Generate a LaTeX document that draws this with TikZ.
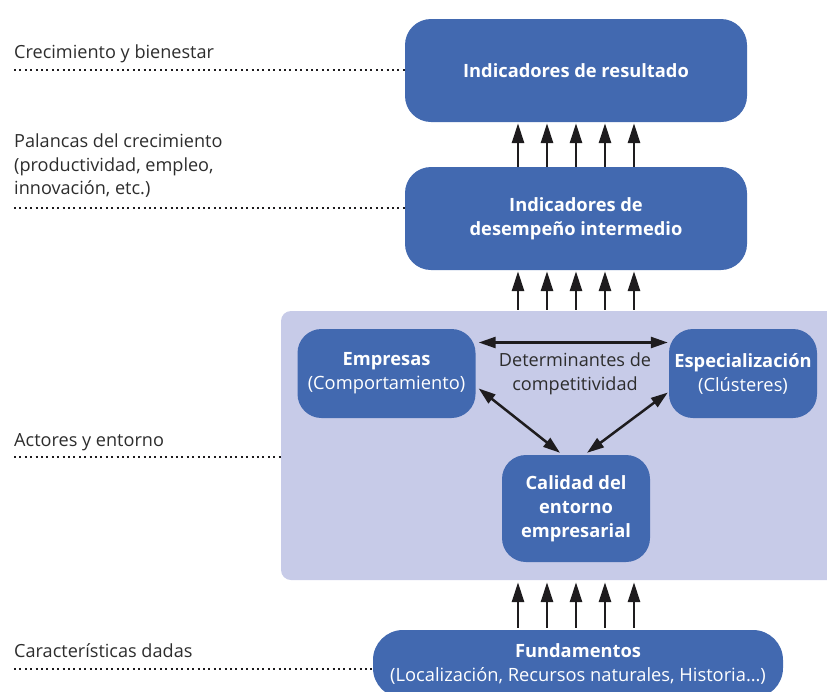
\documentclass[tikz,border=0pt]{standalone}
\usepackage{fontspec}
\setmainfont{Open Sans}
\usetikzlibrary{arrows.meta,calc,positioning}
\definecolor{boxblue}{RGB}{66,105,176}
\definecolor{bglav}{RGB}{199,203,232}
\definecolor{labgray}{RGB}{45,45,45}
\definecolor{arrblack}{RGB}{30,28,30}
\tikzset{
blbox/.style={
  rounded corners=26pt,
  fill=boxblue,
  text=white,
  align=center,
  inner sep=0pt,
  font=\fontsize{18.3}{24}\selectfont,
  }
}
\tikzset{
levlabel/.style={
  text=labgray,
  align=left,
  inner sep=0pt,
  font=\fontsize{18.1}{23.5}\selectfont,
  }
}
\tikzset{
uparrow/.style={
  line width=2.8pt,
  color=arrblack,
  -{Triangle[length=20pt,width=12pt]}
  }
}
\tikzset{
twoarrow/.style={
  line width=2.5pt,
  color=arrblack,
  {Triangle[length=17pt,width=11pt]}-{Triangle[length=17pt,width=11pt]}
  }
}
\tikzset{
dotline/.style={
  line width=2.5pt,
  color=arrblack,
  dash pattern=on 2pt off 3.4pt
  }
}

\begin{document}
\begin{tikzpicture}[x=1pt,y=-1pt]
    \clip (0,0) rectangle (827,691);
    \useasboundingbox (0,0) rectangle (827,691);
    % background of the actors block
    \node[fill=bglav, rounded corners=10pt, minimum width=570pt, minimum height=269pt, inner sep=0pt] (entorno) at (566,445.5) {};
    % blue boxes
    \node[blbox, minimum width=342pt, minimum height=103pt] (res) at (576,70.5) {\textbf{Indicadores de resultado}};
    \node[blbox, minimum width=342pt, minimum height=103pt] (mid) at (576,218.5) {\textbf{Indicadores de}\\\textbf{desempeño intermedio}};
    \node[blbox, rounded corners=24pt, minimum width=178pt, minimum height=89pt] (emp) at (386.5,373.5) {\textbf{Empresas}\\(Comportamiento)};
    \node[blbox, rounded corners=24pt, minimum width=148pt, minimum height=89pt] (esp) at (743,373.5) {\textbf{Especialización}\\(Clústeres)};
    \node[blbox, rounded corners=24pt, minimum width=148pt, minimum height=107pt] (cal) at (576,508.5) {\textbf{Calidad del}\\\textbf{entorno}\\\textbf{empresarial}};
    \node[blbox, rounded corners=30pt, minimum width=410pt, minimum height=68pt] (fund) at (578,664) {\textbf{Fundamentos}\\(Localización, Recursos naturales, Historia…)};
    \node[levlabel, align=center] (det) at (575,374) {Determinantes de\\competitividad};
    % level labels
    \node[levlabel, anchor=base west] (lab1) at (14,58) {Crecimiento y bienestar};
    \node[levlabel, anchor=west] (lab2) at (14,166) {Palancas del crecimiento\\(productividad, empleo,\\innovación, etc.)};
    \node[levlabel, anchor=base west] (lab3) at (14,446) {Actores y entorno};
    \node[levlabel, anchor=base west] (lab4) at (14,657) {Características dadas};
    \coordinate (d1) at (14,70);
    \coordinate (d2) at (14,208);
    \coordinate (d3) at (14,457);
    \coordinate (d4) at (14,669);
    \draw[dotline] (d1) -- (d1 -| res.west);
    \draw[dotline] (d2) -- (d2 -| mid.west);
    \draw[dotline] (d3) -- (d3 -| entorno.west);
    \draw[dotline] (d4) -- (d4 -| fund.west);
    % vertical arrows
    \foreach \dx in {-58,-29,0,29,58} {
        \draw[uparrow] ($(mid.north)+(\dx,0)$) -- ($(res.south)+(\dx,1)$);
        \draw[uparrow] ($(mid.south |- entorno.north)+(\dx,-1)$) -- ($(mid.south)+(\dx,1)$);
        \draw[uparrow] ($(mid.south |- fund.north)+(\dx,-2)$) -- ($(mid.south |- entorno.south)+(\dx,2)$);
    }
    % links between determinants
    \draw[twoarrow] ($(emp.east)+(3,-31)$) -- ($(esp.west)+(-1,-31)$);
    \draw[twoarrow] ($(emp.east)+(3,15)$) -- ($(cal.north)+(-16,-2)$);
    \draw[twoarrow] ($(esp.west)+(-1,19)$) -- ($(cal.north)+(11,-2)$);
\end{tikzpicture}
\end{document}
